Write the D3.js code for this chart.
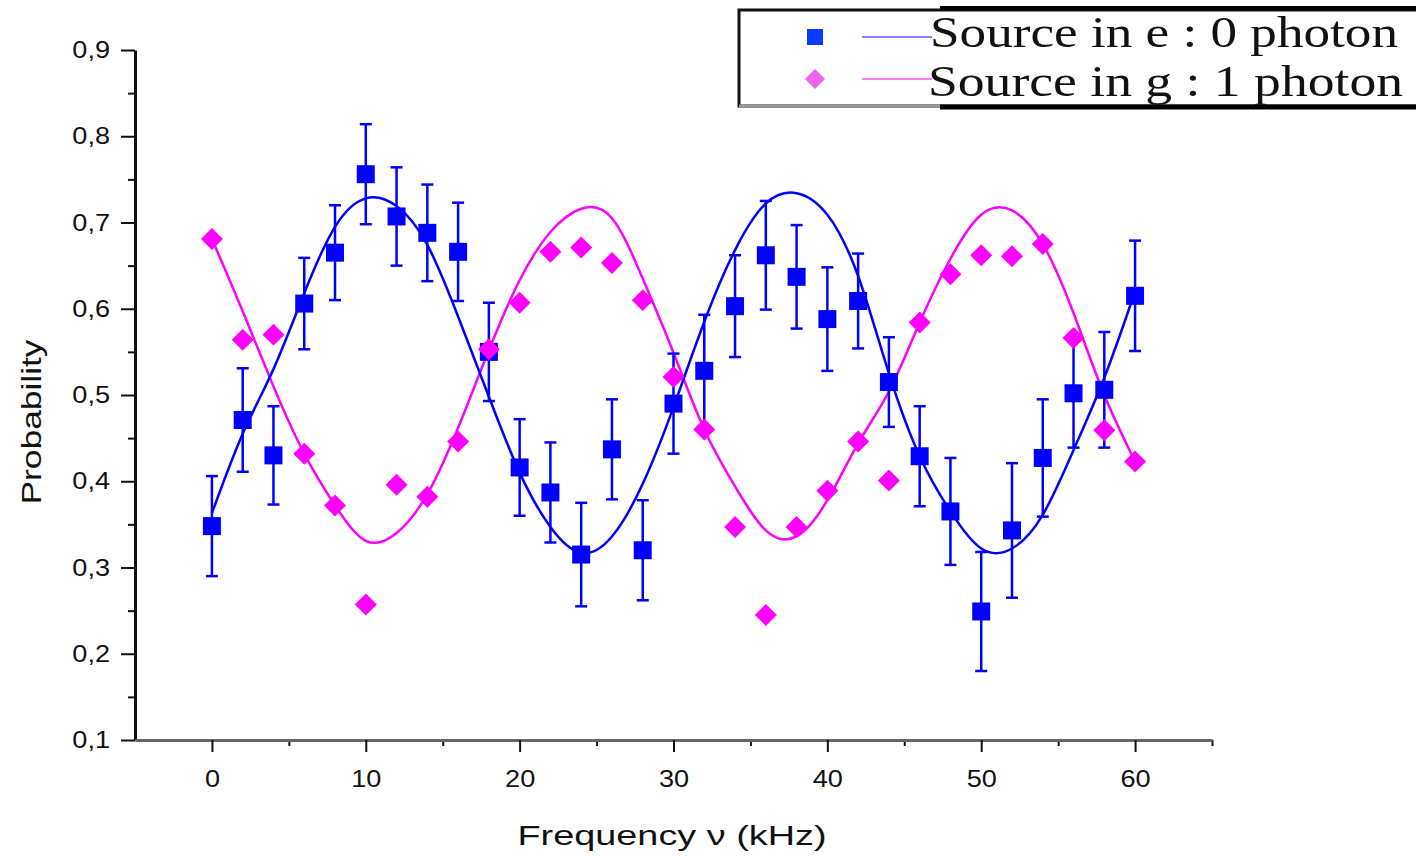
<!DOCTYPE html>
<html>
<head>
<meta charset="utf-8">
<script src="https://cdn.jsdelivr.net/npm/d3@7/dist/d3.min.js"></script>
<style>
  body { margin: 0; background: #fff; }
  svg { display: block; }
</style>
</head>
<body>
<svg id="chart"></svg>
<script>
// Data
const freq = [0, 2, 4, 6, 8, 10, 12, 14, 16, 18, 20, 22, 24, 26, 28, 30, 32, 34, 36, 38, 40, 42, 44, 46, 48, 50, 52, 54, 56, 58, 60];

// source in e : 0 photon (squares with error bars)
const probE = [0.348, 0.471, 0.430, 0.606, 0.665, 0.756, 0.707, 0.688, 0.666, 0.550, 0.416, 0.387, 0.315, 0.437, 0.320, 0.490,
  0.528, 0.603, 0.662, 0.637, 0.588, 0.609, 0.515, 0.429, 0.365, 0.249, 0.343, 0.427, 0.502, 0.506, 0.615];
const errE = [0.058, 0.060, 0.057, 0.053, 0.055, 0.058, 0.057, 0.056, 0.057, 0.057, 0.056, 0.058, 0.060, 0.058, 0.058, 0.058,
  0.065, 0.059, 0.063, 0.060, 0.060, 0.055, 0.052, 0.058, 0.062, 0.069, 0.078, 0.068, 0.063, 0.067, 0.064];

// source in g : 1 photon (diamonds)
const probG = [0.681, 0.564, 0.570, 0.432, 0.372, 0.257, 0.396, 0.382, 0.446, 0.553, 0.607, 0.666, 0.671, 0.653, 0.610, 0.521,
  0.460, 0.347, 0.245, 0.347, 0.389, 0.446, 0.401, 0.584, 0.640, 0.662, 0.661, 0.675, 0.566, 0.459, 0.423];

// fitted curves, read at the same frequencies
const fitE = [0.363, 0.455, 0.530, 0.618, 0.695, 0.728, 0.719, 0.674, 0.591, 0.498, 0.410, 0.347, 0.317, 0.336, 0.397, 0.486,
  0.585, 0.668, 0.722, 0.734, 0.709, 0.638, 0.525, 0.429, 0.365, 0.322, 0.322, 0.361, 0.436, 0.520, 0.620];
const fitG = [0.681, 0.597, 0.510, 0.432, 0.372, 0.331, 0.340, 0.385, 0.462, 0.552, 0.633, 0.689, 0.716, 0.705, 0.635, 0.549,
  0.460, 0.394, 0.343, 0.336, 0.378, 0.444, 0.504, 0.584, 0.658, 0.709, 0.714, 0.675, 0.595, 0.500, 0.423];

const yTicks = [0.1, 0.2, 0.3, 0.4, 0.5, 0.6, 0.7, 0.8, 0.9];
const yMinor = [0.15, 0.25, 0.35, 0.45, 0.55, 0.65, 0.75, 0.85];
const xTicks = [0, 10, 20, 30, 40, 50, 60];
const xMinor = [5, 15, 25, 35, 45, 55, 65];
const legendLabels = ["Source in e : 0 photon", "Source in g : 1 photon"];

const width = 1416;
const height = 856;
const blue = "#0000ff";
const pink = "#ff00ff";
const sans = "'Liberation Sans', Arial, sans-serif";

const svg = d3.select("#chart")
  .attr("width", width)
  .attr("height", height);

// Scales
const xScale = d3.scaleLinear().domain([-5, 65]).range([135, 1212]);
const yScale = d3.scaleLinear().domain([0.1, 0.9]).range([740, 50]);

const commaFmt = d => d3.format(".1f")(d).replace(".", ",");

// Minor ticks first, so the main axis line sits on top
svg.append("g")
  .attr("transform", "translate(135,0)")
  .call(d3.axisLeft(yScale).tickValues(yMinor).tickSize(7).tickFormat("").tickSizeOuter(0))
  .call(g => g.select(".domain").remove())
  .selectAll("line").attr("stroke", "#111").attr("stroke-width", 2);

svg.append("g")
  .attr("transform", "translate(0,740)")
  .call(d3.axisBottom(xScale).tickValues(xMinor).tickSize(6).tickFormat("").tickSizeOuter(0))
  .call(g => g.select(".domain").remove())
  .selectAll("line").attr("stroke", "#111").attr("stroke-width", 2);

// Main axes
const yAxis = svg.append("g")
  .attr("transform", "translate(135,0)")
  .call(d3.axisLeft(yScale).tickValues(yTicks).tickFormat(commaFmt)
    .tickSize(14).tickPadding(11).tickSizeOuter(0));

const xAxis = svg.append("g")
  .attr("transform", "translate(0,740)")
  .call(d3.axisBottom(xScale).tickValues(xTicks).tickFormat(d3.format("d"))
    .tickSize(12).tickPadding(18).tickSizeOuter(0));

yAxis.select(".domain").attr("stroke", "#111").attr("stroke-width", 3);
xAxis.select(".domain").attr("stroke", "#666").attr("stroke-width", 3);
svg.selectAll(".tick line").attr("stroke", "#111").attr("stroke-width", 2);

svg.selectAll(".tick text")
  .attr("font-family", sans)
  .attr("font-size", 24)
  .attr("fill", "#111")
  .each(function () {
    const w = this.getComputedTextLength();
    d3.select(this).attr("textLength", w * 1.13).attr("lengthAdjust", "spacingAndGlyphs");
  });

// Axis titles
svg.append("text")
  .attr("x", 672)
  .attr("y", 845)
  .attr("text-anchor", "middle")
  .attr("font-family", sans)
  .attr("font-size", 28)
  .attr("fill", "#111")
  .attr("textLength", 309)
  .attr("lengthAdjust", "spacingAndGlyphs")
  .text("Frequency  \u03bd (kHz)");

svg.append("text")
  .attr("transform", "translate(41,422) rotate(-90)")
  .attr("text-anchor", "middle")
  .attr("font-family", sans)
  .attr("font-size", 28)
  .attr("fill", "#111")
  .attr("textLength", 165)
  .attr("lengthAdjust", "spacingAndGlyphs")
  .text("Probability");

// Fit curves
const line = (vals) => d3.line()
  .x((d, i) => xScale(freq[i]))
  .y(d => yScale(d))
  .curve(d3.curveNatural)(vals);

svg.append("path")
  .attr("d", line(fitG))
  .attr("fill", "none")
  .attr("stroke", pink)
  .attr("stroke-width", 2.5);

svg.append("path")
  .attr("d", line(fitE))
  .attr("fill", "none")
  .attr("stroke", blue)
  .attr("stroke-width", 2.5);

// Error bars
const pointsE = freq.map((f, i) => ({ f, p: probE[i], e: errE[i] }));
const bars = svg.append("g").attr("stroke", blue).attr("stroke-width", 2.5);

bars.selectAll(".bar")
  .data(pointsE)
  .enter()
  .append("line")
  .attr("x1", d => xScale(d.f))
  .attr("x2", d => xScale(d.f))
  .attr("y1", d => yScale(d.p - d.e))
  .attr("y2", d => yScale(d.p + d.e));

["low", "high"].forEach(side => {
  bars.selectAll(".cap-" + side)
    .data(pointsE)
    .enter()
    .append("line")
    .attr("x1", d => xScale(d.f) - 6)
    .attr("x2", d => xScale(d.f) + 6)
    .attr("y1", d => yScale(side === "low" ? d.p - d.e : d.p + d.e))
    .attr("y2", d => yScale(side === "low" ? d.p - d.e : d.p + d.e));
});

// Markers
const square = d3.symbol(d3.symbolSquare, 324);
const diamond = d3.symbol(d3.symbolSquare, 242);

svg.selectAll(".sq")
  .data(pointsE)
  .enter()
  .append("path")
  .attr("d", square)
  .attr("transform", d => `translate(${xScale(d.f)},${yScale(d.p)})`)
  .attr("fill", blue);

svg.selectAll(".dm")
  .data(freq.map((f, i) => ({ f, p: probG[i] })))
  .enter()
  .append("path")
  .attr("d", diamond)
  .attr("transform", d => `translate(${xScale(d.f)},${yScale(d.p)}) rotate(45)`)
  .attr("fill", pink);

// Legend
const legend = svg.append("g");

legend.append("rect")
  .attr("x", 739).attr("y", 10)
  .attr("width", 700).attr("height", 96)
  .attr("fill", "#fff")
  .attr("stroke", "#111")
  .attr("stroke-width", 3);

legend.append("line")
  .attr("x1", 739).attr("x2", 940).attr("y1", 106).attr("y2", 106)
  .attr("stroke", "#999").attr("stroke-width", 3);
legend.append("line")
  .attr("x1", 940).attr("x2", 1416).attr("y1", 8).attr("y2", 8)
  .attr("stroke", "#000").attr("stroke-width", 4);
legend.append("line")
  .attr("x1", 940).attr("x2", 1416).attr("y1", 107).attr("y2", 107)
  .attr("stroke", "#000").attr("stroke-width", 5);

const rowY = [37, 79];
const baseY = [47, 96];

legend.append("path")
  .attr("d", d3.symbol(d3.symbolSquare, 256))
  .attr("transform", `translate(815,${rowY[0]})`)
  .attr("fill", "#0a3cff");
legend.append("path")
  .attr("d", d3.symbol(d3.symbolSquare, 200))
  .attr("transform", `translate(815,${rowY[1]}) rotate(45)`)
  .attr("fill", "#f062f0");

legend.append("line")
  .attr("x1", 862).attr("x2", 932).attr("y1", rowY[0]).attr("y2", rowY[0])
  .attr("stroke", "#5a5aff").attr("stroke-width", 1.5);
legend.append("line")
  .attr("x1", 862).attr("x2", 932).attr("y1", rowY[1]).attr("y2", rowY[1])
  .attr("stroke", "#ff4cff").attr("stroke-width", 1.5);

legend.selectAll(".label")
  .data(legendLabels)
  .enter()
  .append("text")
  .attr("x", (d, i) => i === 0 ? 930 : 928)
  .attr("y", (d, i) => baseY[i])
  .attr("font-family", "'Liberation Serif', 'Times New Roman', serif")
  .attr("font-size", 44)
  .attr("fill", "#111")
  .attr("textLength", (d, i) => i === 0 ? 468 : 475)
  .attr("lengthAdjust", "spacingAndGlyphs")
  .text(d => d);
</script>
</body>
</html>
